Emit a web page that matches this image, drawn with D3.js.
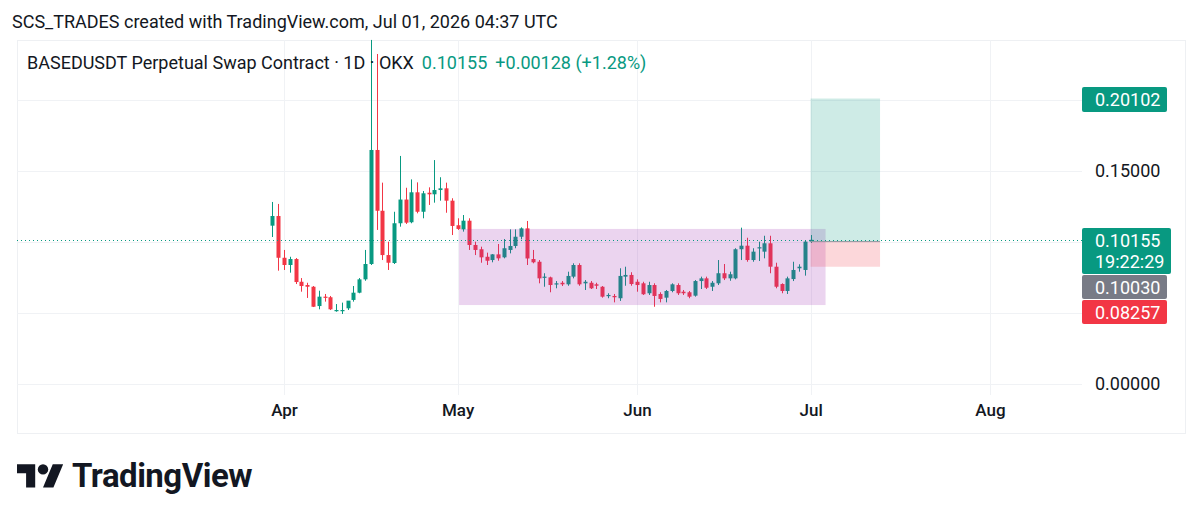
<!DOCTYPE html>
<html><head><meta charset="utf-8">
<script src="https://cdn.jsdelivr.net/npm/d3@7"></script>
<style>html,body{margin:0;padding:0;background:#fff;}svg{display:block;font-family:Roboto,sans-serif;}</style>
</head><body><svg id="c" width="1200" height="521"></svg>
<script>
const dates = ["2026-03-30","2026-03-31",
"2026-04-01","2026-04-02","2026-04-03","2026-04-04","2026-04-05","2026-04-06","2026-04-07","2026-04-08","2026-04-09","2026-04-10",
"2026-04-11","2026-04-12","2026-04-13","2026-04-14","2026-04-15","2026-04-16","2026-04-17","2026-04-18","2026-04-19","2026-04-20",
"2026-04-21","2026-04-22","2026-04-23","2026-04-24","2026-04-25","2026-04-26","2026-04-27","2026-04-28","2026-04-29","2026-04-30",
"2026-05-01","2026-05-02","2026-05-03","2026-05-04","2026-05-05","2026-05-06","2026-05-07","2026-05-08","2026-05-09","2026-05-10",
"2026-05-11","2026-05-12","2026-05-13","2026-05-14","2026-05-15","2026-05-16","2026-05-17","2026-05-18","2026-05-19","2026-05-20",
"2026-05-21","2026-05-22","2026-05-23","2026-05-24","2026-05-25","2026-05-26","2026-05-27","2026-05-28","2026-05-29","2026-05-30","2026-05-31",
"2026-06-01","2026-06-02","2026-06-03","2026-06-04","2026-06-05","2026-06-06","2026-06-07","2026-06-08","2026-06-09","2026-06-10",
"2026-06-11","2026-06-12","2026-06-13","2026-06-14","2026-06-15","2026-06-16","2026-06-17","2026-06-18","2026-06-19","2026-06-20",
"2026-06-21","2026-06-22","2026-06-23","2026-06-24","2026-06-25","2026-06-26","2026-06-27","2026-06-28","2026-06-29","2026-06-30",
"2026-07-01"];
const openP = [0.1115,0.1183,
0.0889,0.0838,0.0880,0.0720,0.0697,0.0685,0.0549,0.0615,0.0611,0.0514,
0.0514,0.0533,0.0592,0.0643,0.0737,0.0845,0.1648,0.1220,0.0908,0.0852,
0.1132,0.1299,0.1139,0.1350,0.1213,0.1347,0.1336,0.1366,0.1378,0.1291,
0.1118,0.1089,0.1150,0.0979,0.0949,0.0896,0.0873,0.0913,0.0892,0.0944,
0.0972,0.1037,0.1096,0.0880,0.0861,0.0749,0.0751,0.0702,0.0713,0.0702,
0.0756,0.0838,0.0709,0.0713,0.0702,0.0685,0.0620,0.0620,0.0604,0.0756,0.0768,
0.0720,0.0709,0.0639,0.0697,0.0634,0.0608,0.0655,0.0697,0.0650,0.0646,
0.0622,0.0725,0.0744,0.0685,0.0709,0.0780,0.0744,0.0744,0.0949,0.0974,
0.0873,0.0956,0.0932,0.0991,0.0826,0.0704,0.0655,0.0739,0.0815,0.0803,
0.10027];
const highP = [0.1282,0.1268,
0.0944,0.0896,0.0887,0.0746,0.0713,0.0690,0.0657,0.0634,0.0620,0.0563,
0.0573,0.0570,0.0690,0.0746,0.0944,0.2423,0.2324,0.1418,0.1002,0.1213,
0.1606,0.1382,0.1441,0.1420,0.1359,0.1385,0.1577,0.1456,0.1418,0.1308,
0.1167,0.1190,0.1167,0.1002,0.0967,0.0925,0.0915,0.0986,0.1021,0.1089,
0.1089,0.1103,0.1148,0.0944,0.0873,0.0780,0.0756,0.0725,0.0725,0.0791,
0.0850,0.0850,0.0732,0.0725,0.0713,0.0690,0.0639,0.0634,0.0815,0.0826,0.0787,
0.0737,0.0720,0.0720,0.0709,0.0646,0.0662,0.0709,0.0709,0.0662,0.0655,
0.0732,0.0756,0.0756,0.0725,0.0873,0.0845,0.0791,0.0956,0.1101,0.1030,
0.0956,0.1002,0.1044,0.1044,0.0854,0.0709,0.0756,0.0861,0.0843,0.1007,
0.1049];
const lowP = [0.1035,0.0798,
0.0803,0.0784,0.0704,0.0650,0.0606,0.0542,0.0526,0.0580,0.0521,0.0509,
0.0493,0.0521,0.0580,0.0639,0.0727,0.0838,0.1085,0.0873,0.0803,0.0845,
0.1108,0.1127,0.1132,0.1202,0.1167,0.1261,0.1277,0.1291,0.1206,0.1049,
0.1085,0.1073,0.0944,0.0908,0.0854,0.0838,0.0857,0.0868,0.0885,0.0920,
0.0956,0.1019,0.0838,0.0850,0.0709,0.0685,0.0646,0.0674,0.0690,0.0692,
0.0744,0.0692,0.0662,0.0669,0.0669,0.0608,0.0604,0.0575,0.0585,0.0692,0.0692,
0.0650,0.0627,0.0627,0.0544,0.0575,0.0575,0.0646,0.0627,0.0627,0.0604,
0.0615,0.0669,0.0669,0.0655,0.0697,0.0732,0.0727,0.0737,0.0873,0.0861,
0.0861,0.0866,0.0885,0.0780,0.0674,0.0639,0.0634,0.0725,0.0791,0.0763,
0.0993];
const closeP = [0.1183,0.0889,
0.0838,0.0880,0.0718,0.0690,0.0685,0.0544,0.0615,0.0608,0.0526,0.0521,
0.0521,0.0587,0.0643,0.0737,0.0845,0.1648,0.1220,0.0908,0.0854,0.1132,
0.1299,0.1136,0.1350,0.1213,0.1343,0.1336,0.1366,0.1378,0.1291,0.1113,
0.1092,0.1150,0.0979,0.0944,0.0892,0.0868,0.0913,0.0885,0.0956,0.0972,
0.1037,0.1096,0.0884,0.0857,0.0744,0.0756,0.0697,0.0709,0.0702,0.0761,
0.0838,0.0702,0.0720,0.0674,0.0692,0.0615,0.0627,0.0611,0.0761,0.0768,0.0704,
0.0697,0.0632,0.0697,0.0620,0.0599,0.0655,0.0702,0.0639,0.0639,0.0615,
0.0725,0.0744,0.0678,0.0713,0.0780,0.0744,0.0773,0.0949,0.0974,0.0873,
0.0932,0.0963,0.0991,0.0826,0.0685,0.0655,0.0744,0.0803,0.0826,0.10027,
0.10155];

const monthTicks = ["2026-04-01","2026-05-01","2026-06-01","2026-07-01","2026-08-01"];
const priceTicks = [0, 0.05, 0.10, 0.15, 0.20];
const rectDates = ["2026-05-01T06:00:00Z","2026-07-03T14:00:00Z"];
const rectPrices = [0.1092, 0.0556];
const posDates = ["2026-07-01","2026-07-13"];
const posEntry = 0.10030, posTarget = 0.20102, posStop = 0.08257;
const lastPrice = 0.10155, lastChange = "+0.00128 (+1.28%)", countdown = "19:22:29";

const GREEN = "#089981", RED = "#f23645", TEXT = "#131722";
const L = 17, R = 1082, T = 40, B = 395, OB = 433, OR = 1185;

const svg = d3.select("#c");
svg.append("rect").attr("width",1200).attr("height",521).attr("fill","#fff");

const x = d3.scaleUtc().domain([new Date("2026-04-01"), new Date("2026-08-01")]).range([284, 990]);
const y = d3.scaleLinear().domain([0, 0.2]).range([384, 100]);

// frame
svg.append("rect").attr("x",L+0.5).attr("y",T+0.5).attr("width",OR-L).attr("height",OB-T)
  .attr("fill","none").attr("stroke","#eef0f3");

// grid
const grid = svg.append("g");
grid.selectAll("line.h").data(priceTicks).join("line")
  .attr("x1",L).attr("x2",R).attr("y1",d=>Math.round(y(d))+0.5).attr("y2",d=>Math.round(y(d))+0.5)
  .attr("stroke","#f0f2f5");
grid.selectAll("line.v").data(monthTicks).join("line")
  .attr("x1",d=>Math.round(x(new Date(d)))+0.5).attr("x2",d=>Math.round(x(new Date(d)))+0.5)
  .attr("y1",T).attr("y2",B).attr("stroke","#f0f2f5");

// candles
const data = dates.map((d,i)=>({date:new Date(d),o:openP[i],h:highP[i],l:lowP[i],c:closeP[i]}));
const cg = svg.append("g");
const cand = cg.selectAll("g").data(data).join("g");
cand.append("line")
  .attr("x1",d=>Math.round(x(d.date))+0.5).attr("x2",d=>Math.round(x(d.date))+0.5)
  .attr("y1",d=>y(d.h)).attr("y2",d=>y(d.l))
  .attr("stroke",d=>d.c>=d.o?GREEN:RED).attr("stroke-width",1);
cand.append("rect")
  .attr("x",d=>Math.round(x(d.date))-1.5).attr("width",4)
  .attr("y",d=>y(Math.max(d.o,d.c)))
  .attr("height",d=>Math.max(1.2, Math.abs(y(d.o)-y(d.c))))
  .attr("fill",d=>d.c>=d.o?GREEN:RED);

// rectangle drawing
svg.append("rect")
  .attr("x",x(new Date(rectDates[0]))).attr("width",x(new Date(rectDates[1]))-x(new Date(rectDates[0])))
  .attr("y",y(rectPrices[0])).attr("height",y(rectPrices[1])-y(rectPrices[0]))
  .attr("fill","rgba(156,39,176,0.2)");

// long position
const px0 = x(new Date(posDates[0])), px1 = x(new Date(posDates[1]));
svg.append("rect").attr("x",px0).attr("width",px1-px0)
  .attr("y",y(posTarget)).attr("height",y(posEntry)-y(posTarget)).attr("fill","rgba(8,153,129,0.2)");
svg.append("rect").attr("x",px0).attr("width",px1-px0)
  .attr("y",y(posEntry)).attr("height",y(posStop)-y(posEntry)).attr("fill","rgba(242,54,69,0.2)");
svg.append("line").attr("x1",px0).attr("x2",px1).attr("y1",y(posEntry)).attr("y2",y(posEntry))
  .attr("stroke","#9598a1").attr("stroke-width",1);

// last price dotted line
svg.append("line").attr("x1",L).attr("x2",R)
  .attr("y1",Math.round(y(lastPrice))+0.5).attr("y2",Math.round(y(lastPrice))+0.5)
  .attr("stroke",GREEN).attr("stroke-dasharray","1,3");

// price axis
const ya = svg.append("g").attr("transform",`translate(${R},0)`)
  .call(d3.axisRight(y).tickValues(priceTicks).tickFormat(d3.format(".5f")).tickSize(0).tickPadding(13));
ya.select(".domain").remove();
ya.selectAll("text").attr("font-size",18).attr("font-family","Roboto,sans-serif").attr("fill",TEXT);

// time axis
const xa = svg.append("g").attr("transform",`translate(0,${B})`)
  .call(d3.axisBottom(x).tickValues(monthTicks.map(d=>new Date(d))).tickFormat(d3.utcFormat("%b")).tickSize(0).tickPadding(9));
xa.select(".domain").remove();
xa.selectAll("text").attr("font-size",17).attr("font-weight",500).attr("font-family","Roboto,sans-serif").attr("fill",TEXT);

// price labels
function label(val, yc, h, w, fill, lines){
  const g = svg.append("g");
  g.append("rect").attr("x",R).attr("y",yc).attr("width",w).attr("height",h).attr("rx",2).attr("fill",fill);
  lines.forEach((t,i)=>{
    g.append("text").attr("x",R+13).attr("y",yc+19+i*21).attr("font-size",18).attr("fill","#fff").text(t);
  });
}
const fmt = d3.format(".5f");
label(posTarget, Math.round(y(posTarget))-12, 25, 85, GREEN, [fmt(posTarget)]);
label(lastPrice, 228, 46, 89, GREEN, [fmt(lastPrice), countdown]);
label(posEntry, 275, 24, 85, "#787b86", [fmt(posEntry)]);
label(posStop, 300, 24, 85, RED, [fmt(posStop)]);

// header
svg.append("text").attr("x",12).attr("y",28).attr("font-size",18).attr("fill",TEXT)
  .text("SCS_TRADES created with TradingView.com, Jul 01, 2026 04:37 UTC");
const lg = svg.append("text").attr("x",27).attr("y",69).attr("font-size",18).attr("fill",TEXT);
lg.append("tspan").text("BASEDUSDT Perpetual Swap Contract · 1D · OKX");
lg.append("tspan").attr("dx",8).attr("fill",GREEN).text(fmt(lastPrice));
lg.append("tspan").attr("dx",8).attr("fill",GREEN).text(lastChange);

// logo
const logo = svg.append("g").attr("transform","translate(17,459) scale(1.3)").attr("fill",TEXT);
logo.append("path").attr("d","M14 22H7V11H0V4h14v18zM28 22h-8l7.5-18h8L28 22z");
logo.append("circle").attr("cx",20).attr("cy",8).attr("r",4);
svg.append("text").attr("x",72).attr("y",487).attr("font-size",33).attr("font-weight",700)
  .attr("fill",TEXT).attr("letter-spacing",-0.5).text("TradingView");
</script></body></html>
